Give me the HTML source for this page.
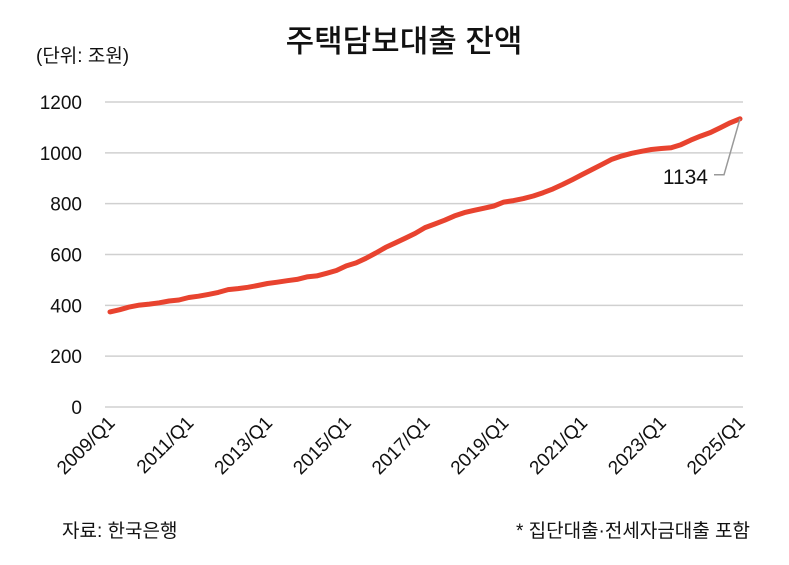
<!DOCTYPE html>
<html><head><meta charset="utf-8"><style>
body{margin:0;background:#fff;width:789px;height:560px;overflow:hidden;font-family:"Liberation Sans","Noto Sans CJK KR",sans-serif}
svg text{font-family:"Liberation Sans","Noto Sans CJK KR",sans-serif;fill:#111}
</style></head><body>
<svg width="789" height="560">
<text x="404" y="52" text-anchor="middle" font-size="31" font-weight="500">주택담보대출 잔액</text>
<text x="36" y="62" font-size="19">(단위: 조원)</text>
<g id="grid"></g><g id="yt"></g><g id="xt"></g>
<path id="line" fill="none" stroke="#e8432f" stroke-width="5" stroke-linejoin="round" stroke-linecap="round"/>
<polyline id="leader" fill="none" stroke="#999" stroke-width="1.5"/>
<text id="ann" font-size="21" text-anchor="end"></text>
<text x="62" y="537" font-size="19">자료: 한국은행</text>
<text x="750" y="537" font-size="19" text-anchor="end">* 집단대출·전세자금대출 포함</text>
</svg>
<script>
const values=[374,383,394,401,405,410,417,421,431,436,443,451,462,466,471,478,486,491,497,502,512,516,526,537,555,567,585,606,628,646,664,683,706,720,735,752,765,774,782,791,806,812,820,830,843,858,876,895,915,935,955,975,988,998,1006,1013,1017,1020,1032,1050,1066,1080,1099,1118,1134];
const yTicks=[0,200,400,600,800,1000,1200];
const xLabels=["2009/Q1","2011/Q1","2013/Q1","2015/Q1","2017/Q1","2019/Q1","2021/Q1","2023/Q1","2025/Q1"];
const NS="http://www.w3.org/2000/svg";
const x=i=>110+i*(630/(values.length-1));
const y=v=>407-v*(305/1200);
const g=document.getElementById('grid'),yt=document.getElementById('yt'),xt=document.getElementById('xt');
yTicks.forEach(t=>{
 const l=document.createElementNS(NS,'line');
 l.setAttribute('x1',105);l.setAttribute('x2',743);l.setAttribute('y1',y(t));l.setAttribute('y2',y(t));
 l.setAttribute('stroke','#d0d0d0');l.setAttribute('stroke-width','1.5');
 
 
 g.appendChild(l);
 const tx=document.createElementNS(NS,'text');
 tx.setAttribute('x',82);tx.setAttribute('y',y(t)+7);tx.setAttribute('text-anchor','end');tx.setAttribute('font-size','19');
 tx.textContent=t;
 
 
 yt.appendChild(tx);
});
xLabels.forEach((s,k)=>{
 const xi=x(k*8)+6,yi=424;
 const tx=document.createElementNS(NS,'text');
 tx.setAttribute('x',xi);tx.setAttribute('y',yi);tx.setAttribute('text-anchor','end');tx.setAttribute('font-size','19');
 tx.setAttribute('transform','rotate(-45 '+xi+' '+yi+')');
 tx.textContent=s;
 
 
 xt.appendChild(tx);
});
document.getElementById('line').setAttribute('d',values.map((v,i)=>(i?'L':'M')+x(i).toFixed(1)+' '+y(v).toFixed(1)).join(''));
const n=values.length-1,lx=x(n),ly=y(values[n]);
document.getElementById('leader').setAttribute('points',lx+','+ly+' '+(lx-16)+','+(ly+56)+' '+(lx-26)+','+(ly+56));
const a=document.getElementById('ann');a.setAttribute('x',lx-32);a.setAttribute('y',ly+65);a.textContent=values[n];
</script>
</body></html>
